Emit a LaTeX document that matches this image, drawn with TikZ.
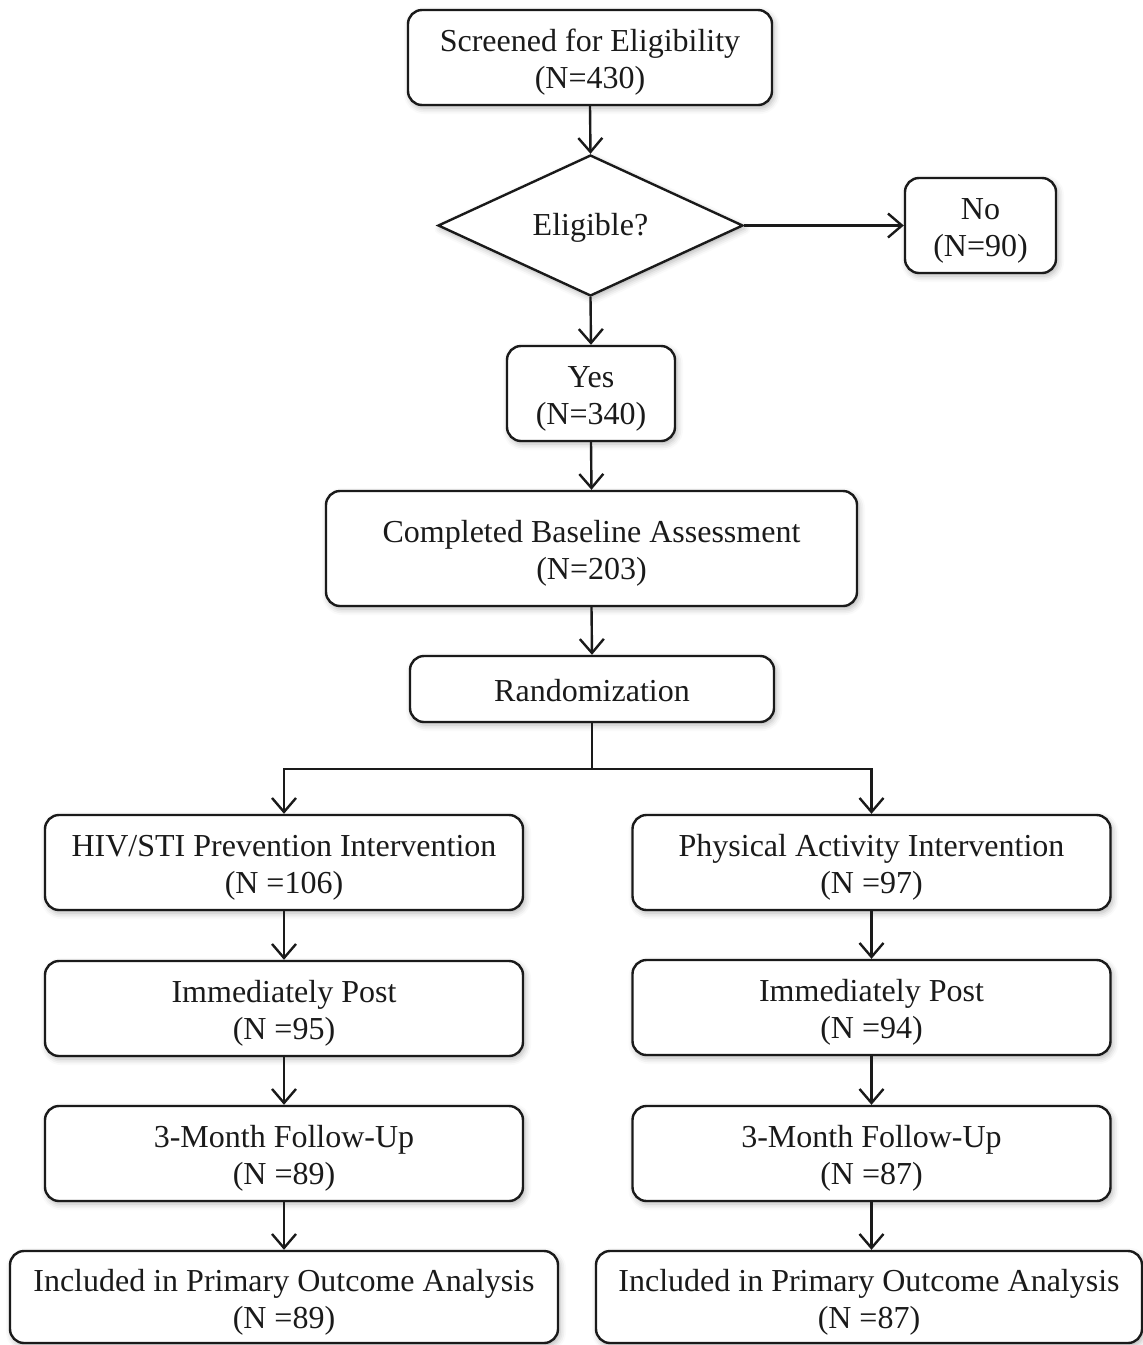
\documentclass[tikz,border=0pt]{standalone}
\usepackage{fontspec}
\setmainfont{Liberation Serif}
\usetikzlibrary{arrows.meta,shapes.geometric,shadows.blur}

\definecolor{ink}{HTML}{1A1A1A}

% taller first line, so that the text block sits a little low in its box
\newcommand{\firstlinestrut}[1][32pt]{\rule{0pt}{#1}}

\tikzset{
  x=1pt, y=-1pt,
  every node/.style={text=ink, font=\fontsize{32}{37}\selectfont, align=center, inner sep=0pt},
  softshadow/.style={blur shadow={shadow xshift=2pt, shadow yshift=-3pt, shadow blur radius=6pt, shadow opacity=30}},
  box/.style={draw=ink, line width=2.4pt, rounded corners=14pt, fill=white, softshadow},
  decision/.style={draw=ink, line width=2.4pt, shape=diamond, aspect=2.2, fill=white, softshadow},
  flow/.style={draw=ink, line width=2.4pt, -{Straight Barb[length=14pt, width=24pt, line width=2.4pt]}},
  link/.style={draw=ink, line width=2.4pt},
}

\begin{document}
\begin{tikzpicture}
\useasboundingbox (0,0) rectangle (1143,1345);

% --- screening and eligibility ---
\node[box, minimum width=364pt, minimum height=95pt] (scr) at (590,57.5)
  {\firstlinestrut Screened for Eligibility\\(N=430)};
\node[decision, minimum width=305pt, minimum height=141pt] (elig) at (590.5,225.5)
  {\firstlinestrut[27pt]Eligible?};
\node[box, minimum width=151pt, minimum height=95pt] (no) at (980.5,225.5)
  {\firstlinestrut No\\(N=90)};
\node[box, minimum width=168pt, minimum height=95pt] (yes) at (591,393.5)
  {\firstlinestrut Yes\\(N=340)};
\node[box, minimum width=531pt, minimum height=115pt] (base) at (591.5,548.5)
  {\firstlinestrut Completed Baseline Assessment\\(N=203)};
\node[box, minimum width=364pt, minimum height=66pt] (rand) at (592,689)
  {\firstlinestrut[26pt]Randomization};

% --- HIV/STI arm ---
\node[box, minimum width=478pt, minimum height=95pt] (hiv) at (284,862.5)
  {\firstlinestrut HIV/STI Prevention Intervention\\(N =106)};
\node[box, minimum width=478pt, minimum height=95pt] (hivpost) at (284,1008.5)
  {\firstlinestrut Immediately Post\\(N =95)};
\node[box, minimum width=478pt, minimum height=95pt] (hivfu) at (284,1153.5)
  {\firstlinestrut 3-Month Follow-Up\\(N =89)};
\node[box, minimum width=548pt, minimum height=92pt] (hivinc) at (284,1297)
  {\firstlinestrut Included in Primary Outcome Analysis\\(N =89)};

% --- physical activity arm ---
\node[box, minimum width=478pt, minimum height=95pt] (pa) at (871.5,862.5)
  {\firstlinestrut Physical Activity Intervention\\(N =97)};
\node[box, minimum width=478pt, minimum height=95pt] (papost) at (871.5,1007.5)
  {\firstlinestrut Immediately Post\\(N =94)};
\node[box, minimum width=478pt, minimum height=95pt] (pafu) at (871.5,1153.5)
  {\firstlinestrut 3-Month Follow-Up\\(N =87)};
\node[box, minimum width=546pt, minimum height=92pt] (painc) at (869,1297)
  {\firstlinestrut Included in Primary Outcome Analysis\\(N =87)};

% --- connectors ---
\draw[flow] (scr.south) -- (elig.north);
\draw[flow] (elig.east) -- (no.west);
\draw[flow] (elig.south) -- (yes.north);
\draw[flow] (yes.south) -- (base.north);
\draw[flow] (base.south) -- (rand.north);

\draw[link] (rand.south) -- ++(0,46) coordinate (split);
\draw[flow] (split) -| (hiv.north);
\draw[flow] (split) -| (pa.north);

\draw[flow] (hiv.south) -- (hivpost.north);
\draw[flow] (hivpost.south) -- (hivfu.north);
\draw[flow] (hivfu.south) -- (hivfu.south |- hivinc.north);

\draw[flow] (pa.south) -- (papost.north);
\draw[flow] (papost.south) -- (pafu.north);
\draw[flow] (pafu.south) -- (pafu.south |- painc.north);
\end{tikzpicture}
\end{document}
